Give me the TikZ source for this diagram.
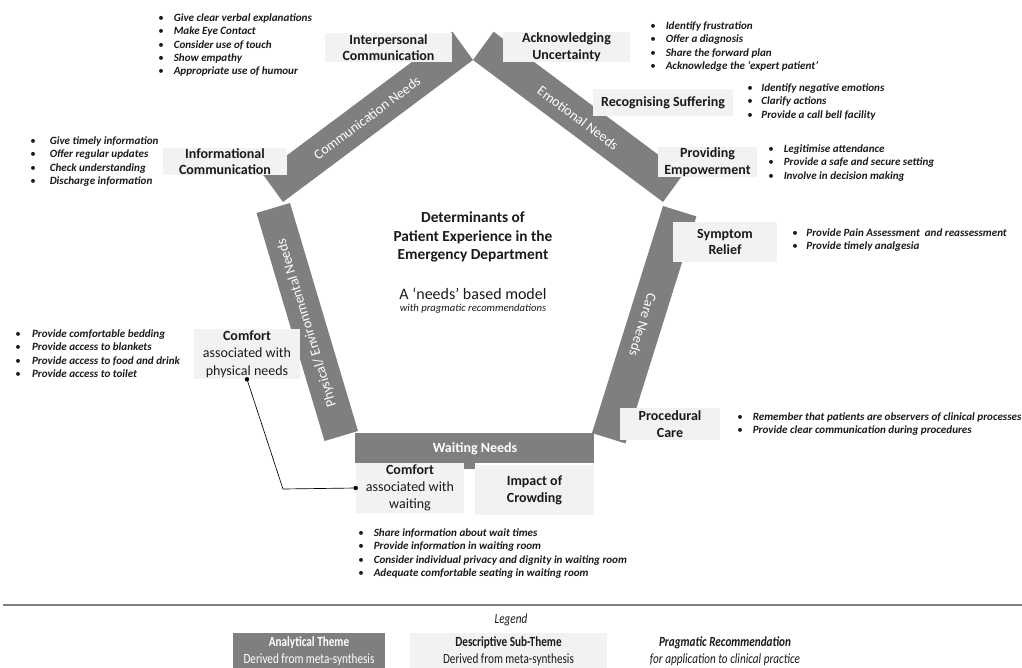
\documentclass[tikz,border=0pt]{standalone}
\usepackage{fontspec}
\setmainfont{Carlito}
\newfontfamily\condfont[FakeStretch=0.8]{Carlito}
\definecolor{bandc}{HTML}{7F7F7F}
\definecolor{boxg}{HTML}{F2F2F2}
\definecolor{txt}{HTML}{1A1A1A}
\tikzset{
  bandshape/.style={fill=bandc, draw=none},
  sz/.style 2 args={minimum width=#1*0.75pt, minimum height=#2*0.75pt},
  sub/.style={fill=boxg, inner sep=0pt, align=center, text=txt,
    font=\fontsize{10.5}{12.5}\selectfont\bfseries},
  bandlbl/.style={text=white, inner sep=0pt, font=\fontsize{10.5}{12.5}\selectfont},
  bul/.style={anchor=base west, inner sep=0pt, text=txt, font=\fontsize{8.3}{10}\selectfont},
  conn/.style={draw=black, line width=0.5pt},
  dotc/.style={fill=black},
  lgbox/.style={align=center, inner sep=0pt, sz={#1}{36}, font=\condfont\fontsize{10.5}{12.5}\selectfont},
}
\newcommand\bi[1]{\textbullet & \textbf{\textit{#1}}\\}
\newcommand\blist[2][7.5pt]{\begin{tabular}[t]{@{}l@{\hspace{#1}}l@{}}#2\end{tabular}}
\begin{document}
\begin{tikzpicture}[x=0.75pt,y=-0.75pt]
\useasboundingbox (0,0) rectangle (1022,668);

% ---- analytical theme bands
\fill[bandshape] (473,60) -- (283,202) -- (262.4,173.7) -- (452.4,31.7) -- cycle;
\fill[bandshape] (473,60) -- (663,202) -- (683.6,173.7) -- (493.6,31.7) -- cycle;
\fill[bandshape] (290,203) -- (358,431) -- (324.5,441) -- (256.5,213) -- cycle;
\fill[bandshape] (663,206) -- (592,433) -- (625.4,443.4) -- (696.4,216.4) -- cycle;
\fill[bandshape] (355,433) rectangle (594,463);
\fill[bandshape] (464,462) rectangle (475,469);

% ---- descriptive sub-themes
\node[sub, sz={127}{29}] (ipc) at (388.5,47.5) {Interpersonal\\Communication};
\node[sub, sz={127}{30}] (acu) at (566.5,47) {Acknowledging\\Uncertainty};
\node[sub, sz={140}{27}] (rcs) at (663,102.5) {Recognising Suffering};
\node[sub, sz={99}{30}] (pem) at (707.5,162) {Providing\\Empowerment};
\node[sub, sz={124}{27}] (inf) at (225,161.5) {Informational\\Communication};
\node[sub, sz={104}{40}] (sym) at (725,242) {Symptom\\Relief};
\node[sub, sz={100}{32}] (prc) at (670,424) {Procedural\\Care};
\node[sub, sz={106}{50}, font=\fontsize{10.5}{13}\selectfont] (cph) at (247,354)
  {\textbf{Comfort}\\associated with\\physical needs};
\node[sub, sz={108}{50}, font=\fontsize{10.5}{12.8}\selectfont] (cwt) at (410,488)
  {\textbf{Comfort}\\associated with\\waiting};
\node[sub, sz={119}{50}] (crw) at (534.5,490) {Impact of\\Crowding};

% ---- band labels
\node[bandlbl, rotate=36.7] (lcom) at (367,118) {Communication Needs};
\node[bandlbl, rotate=-36.7] (lemo) at (578,118) {Emotional Needs};
\node[bandlbl, rotate=107] (lphy) at (307,323) {Physical/ Environmental Needs};
\node[bandlbl, rotate=-107] (lcar) at (643,325) {Care Needs};
\node[bandlbl, font=\fontsize{10.5}{12.5}\selectfont\bfseries] (lwai) at (475,449) {Waiting Needs};

% ---- title
\node[align=center, text=txt, font=\fontsize{11.5}{14}\selectfont\bfseries] (ttl) at (473,237)
  {Determinants of\\Patient Experience in the\\Emergency Department};
\node[text=txt, font=\fontsize{12}{14}\selectfont, inner sep=0pt] (sub1) at (473,294) {A ‘needs’ based model};
\node[text=txt, font=\fontsize{8}{10}\selectfont\itshape, inner sep=0pt] (sub2) at (473,309) {with pragmatic recommendations};

% ---- pragmatic recommendations
\node[bul] (r1) at (158,21.5) {\blist{\bi{Give clear verbal explanations}\bi{Make Eye Contact}\bi{Consider use of touch}\bi{Show empathy}\bi{Appropriate use of humour}}};
\node[bul] (r2) at (650,29.5) {\blist{\bi{Identify frustration}\bi{Offer a diagnosis}\bi{Share the forward plan}\bi{Acknowledge the ‘expert patient’}}};
\node[bul] (r3) at (747,91.5) {\blist[6.5pt]{\bi{Identify negative emotions}\bi{Clarify actions}\bi{Provide a call bell facility}}};
\node[bul] (r4) at (768,152.5) {\blist{\bi{Legitimise attendance}\bi{Provide a safe and secure setting}\bi{Involve in decision making}}};
\node[bul] (r5) at (792,236.5) {\blist[6.5pt]{\bi{Provide Pain Assessment\ \ and reassessment}\bi{Provide timely analgesia}}};
\node[bul] (r6) at (737,420.5) {\blist{\bi{Remember that patients are observers of clinical processes}\bi{Provide clear communication during procedures}}};
\node[bul] (r7) at (30,144.5) {\blist[10.5pt]{\bi{Give timely information}\bi{Offer regular updates}\bi{Check understanding}\bi{Discharge information}}};
\node[bul] (r8) at (15,337.5) {\blist[8.5pt]{\bi{Provide comfortable bedding}\bi{Provide access to blankets}\bi{Provide access to food and drink}\bi{Provide access to toilet}}};
\node[bul] (r9) at (358,536.5) {\blist{\bi{Share information about wait times}\bi{Provide information in waiting room}\bi{Consider individual privacy and dignity in waiting room}\bi{Adequate comfortable seating in waiting room}}};

% ---- connector between the two comfort sub-themes
\coordinate (bend) at (283,489);
\draw[conn] (cph.south) -- (bend) -- (cwt.west);
\fill[dotc] (cph.south) circle (2.2);
\fill[dotc] (cwt.west) circle (2.2);

% ---- legend
\coordinate (lgl) at (3,605);
\coordinate (lgr) at (1022,605);
\draw[draw=bandc, line width=1.2pt] (lgl) -- (lgr);
\node[text=txt, font=\condfont\fontsize{10.5}{12}\selectfont\itshape] (lgd) at (511,620) {Legend};
\node[lgbox=152, fill=bandc, text=white] (lg1) at (309,651) {\textbf{Analytical Theme}\\Derived from meta-synthesis};
\node[lgbox=197, fill=boxg, text=txt] (lg2) at (508.5,651) {\textbf{Descriptive Sub-Theme}\\Derived from meta-synthesis};
\node[lgbox=197, text=txt, font=\condfont\fontsize{10.5}{12.5}\selectfont\itshape] (lg3) at (725,651)
  {\textbf{Pragmatic Recommendation}\\for application to clinical practice};
\end{tikzpicture}
\end{document}
